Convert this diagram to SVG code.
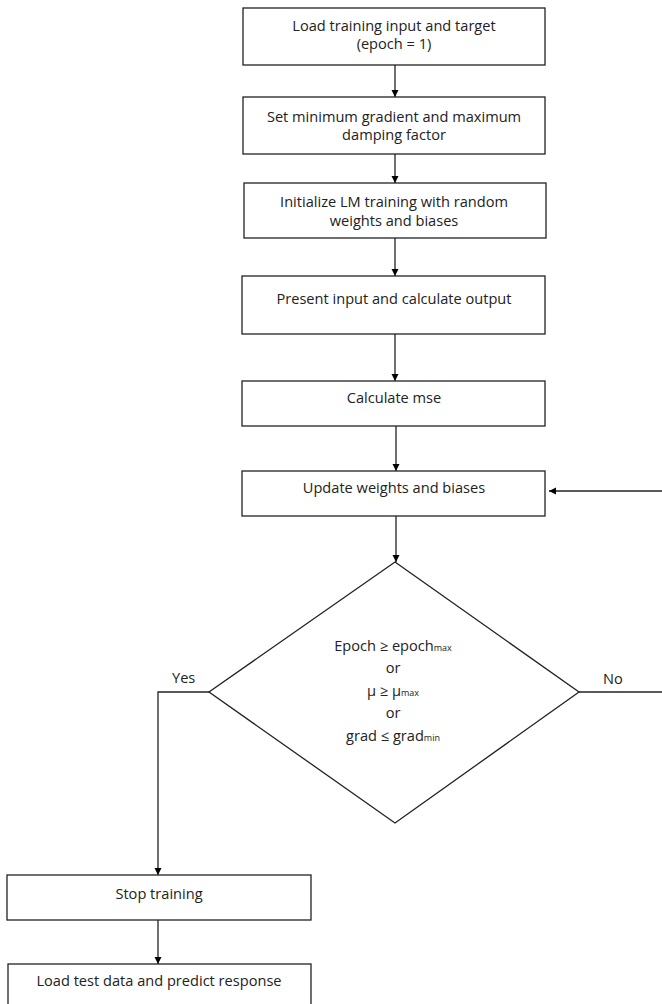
<svg xmlns="http://www.w3.org/2000/svg" width="662" height="1004" viewBox="0 0 662 1004">
<defs>
<marker id="arr" markerWidth="8" markerHeight="8" refX="7" refY="4" orient="auto" markerUnits="userSpaceOnUse">
<path d="M0,0.5 L7,4 L0,7.5 Z" fill="#000"/>
</marker>
<style>
.box{fill:#fff;stroke:#222;stroke-width:1.3}
.t{font-family:"Open Sans","Liberation Sans",sans-serif;font-size:14.6px;fill:#222;text-anchor:middle}
.l{font-family:"Open Sans","Liberation Sans",sans-serif;font-size:14.6px;fill:#222}
.sub{font-size:9px}
.c{fill:none;stroke:#222;stroke-width:1.3}
</style>
</defs>
<rect width="662" height="1004" fill="#fff"/>
<g id="connectors">
<line class="c" x1="395" y1="65" x2="395" y2="97" marker-end="url(#arr)"/>
<line class="c" x1="395" y1="154" x2="395" y2="183" marker-end="url(#arr)"/>
<line class="c" x1="395" y1="238" x2="395" y2="276" marker-end="url(#arr)"/>
<line class="c" x1="395" y1="334" x2="395" y2="381" marker-end="url(#arr)"/>
<line class="c" x1="396" y1="426" x2="396" y2="471" marker-end="url(#arr)"/>
<line class="c" x1="396" y1="516" x2="396" y2="562" marker-end="url(#arr)"/>
<line class="c" x1="662" y1="491" x2="549" y2="491" marker-end="url(#arr)"/>
<line class="c" x1="579" y1="692" x2="662" y2="692"/>
<polyline class="c" points="209,692 158,692 158,875" marker-end="url(#arr)"/>
<line class="c" x1="158" y1="920" x2="158" y2="964" marker-end="url(#arr)"/>
<text class="l" x="172" y="683">Yes</text>
<text class="l" x="603" y="684">No</text>
</g>
<g id="n1">
<rect class="box" x="243" y="8" width="302" height="57"/>
<text class="t" x="394" y="30.5">Load training input and target<tspan x="394" dy="18">(epoch = 1)</tspan></text>
</g>
<g id="n2">
<rect class="box" x="243" y="97" width="302" height="57"/>
<text class="t" x="394" y="121.5">Set minimum gradient and maximum<tspan x="394" dy="18.5">damping factor</tspan></text>
</g>
<g id="n3">
<rect class="box" x="244" y="183" width="302" height="55"/>
<text class="t" x="394" y="207">Initialize LM training with random<tspan x="394" dy="19">weights and biases</tspan></text>
</g>
<g id="n4">
<rect class="box" x="242" y="276" width="303" height="58"/>
<text class="t" x="394" y="304">Present input and calculate output</text>
</g>
<g id="n5">
<rect class="box" x="242" y="381" width="303" height="45"/>
<text class="t" x="394" y="403">Calculate mse</text>
</g>
<g id="n6">
<rect class="box" x="242" y="471" width="303" height="45"/>
<text class="t" x="394" y="493">Update weights and biases</text>
</g>
<g id="n7">
<polygon class="box" points="395,562 579,692 395,823 209,692"/>
<text class="t" x="393" y="651">Epoch ≥ epoch<tspan class="sub">max</tspan></text>
<text class="t" x="393" y="673">or</text>
<text class="t" x="393" y="696">μ ≥ μ<tspan class="sub">max</tspan></text>
<text class="t" x="393" y="718">or</text>
<text class="t" x="393" y="741">grad ≤ grad<tspan class="sub">min</tspan></text>
</g>
<g id="n8">
<rect class="box" x="7" y="875" width="304" height="45"/>
<text class="t" x="159" y="899">Stop training</text>
</g>
<g id="n9">
<rect class="box" x="8" y="964" width="303" height="45"/>
<text class="t" x="159" y="986">Load test data and predict response</text>
</g>
</svg>
